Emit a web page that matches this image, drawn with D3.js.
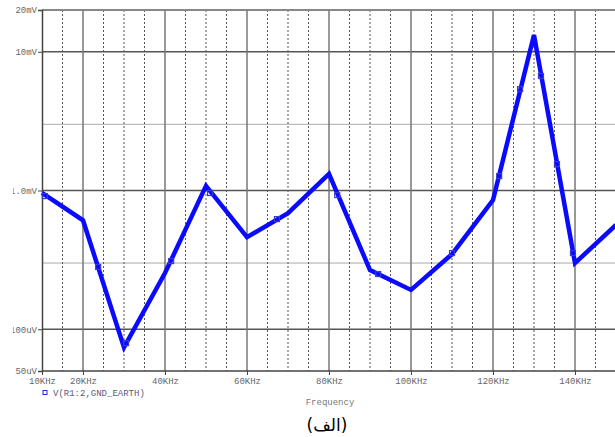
<!DOCTYPE html>
<html>
<head>
<meta charset="utf-8">
<script src="https://cdn.jsdelivr.net/npm/d3@7"></script>
<style>
    body { margin: 0; background: #fff; }
    svg { display: block; }
    .tick text { font-family: "Liberation Mono", "DejaVu Sans Mono", monospace; font-size: 9px; fill: #666; }
</style>
</head>
<body>
<div id="plot"></div>
<script>
'use strict';

// trace values
var freqKHz = [10, 20, 30, 40, 50, 60, 70, 80, 90, 100, 110, 120, 130, 140, 150];
var voltage = [0.96e-3, 0.61e-3, 74e-6, 254e-6, 1.08e-3, 461e-6, 687e-6, 1.32e-3,
    267e-6, 192e-6, 348e-6, 853e-6, 13.2e-3, 300e-6, 564e-6];

// marker squares sitting on the trace
var markerKHz = [10.7, 23.7, 30.5, 41.5, 51.0, 67.3, 82.0, 92.0, 110, 121.5, 126.6, 131.7, 135.6, 139.5];
var markerV = [912e-6, 281e-6, 79.5e-6, 310e-6, 959e-6, 622e-6, 927e-6, 250e-6,
    354e-6, 1.27e-3, 5.38e-3, 6.69e-3, 1.55e-3, 354e-6];

var xTicks = [10, 20, 40, 60, 80, 100, 120, 140];
var xMajorGrid = [20, 40, 60, 80, 100, 120, 140];
var xMinorGrid = [15, 25, 30, 35, 45, 50, 55, 65, 70, 75, 85, 90, 95, 105, 110, 115, 125, 130, 135, 145];
var yTicks = [50e-6, 100e-6, 1e-3, 10e-3, 20e-3];
var yTickLabels = ['50uV', '100uV', '1.0mV', '10mV', '20mV'];
var yMajorGrid = [100e-6, 1e-3, 10e-3];
var yMinorGrid = [300e-6, 3e-3];

var traceName = 'V(R1:2,GND_EARTH)';
var xTitle = 'Frequency';
var caption = '(الف)';

(function () {
    var W = 615, H = 437;
    var pLeft = 42, pTop = 10, pRight = 616, pBottom = 371;

    var x = d3.scaleLinear().domain([10, 150]).range([pLeft, pRight]);
    var y = d3.scaleLog().domain([50e-6, 20e-3]).range([pBottom, pTop]);

    var svg = d3.select('#plot').append('svg').attr('width', W).attr('height', H);

    svg.append('defs').append('clipPath').attr('id', 'labelClip')
        .append('rect').attr('x', -29).attr('y', 0).attr('width', W).attr('height', H);

    var grid = svg.append('g');

    grid.selectAll('.ymin').data(yMinorGrid).enter().append('line')
        .attr('x1', pLeft).attr('x2', W)
        .attr('y1', function (d) { return y(d); }).attr('y2', function (d) { return y(d); })
        .attr('stroke', '#aaa').attr('stroke-width', 1);

    grid.selectAll('.xmin').data(xMinorGrid).enter().append('line')
        .attr('x1', function (d) { return x(d); }).attr('x2', function (d) { return x(d); })
        .attr('y1', pTop).attr('y2', pBottom)
        .attr('stroke', '#555').attr('stroke-width', 1).attr('stroke-dasharray', '2,2');

    grid.selectAll('.ymaj').data(yMajorGrid).enter().append('line')
        .attr('x1', pLeft).attr('x2', W)
        .attr('y1', function (d) { return y(d); }).attr('y2', function (d) { return y(d); })
        .attr('stroke', '#555').attr('stroke-width', 1.5);

    grid.selectAll('.xmaj').data(xMajorGrid).enter().append('line')
        .attr('x1', function (d) { return x(d); }).attr('x2', function (d) { return x(d); })
        .attr('y1', pTop).attr('y2', pBottom)
        .attr('stroke', '#777').attr('stroke-width', 1.5);

    // top border
    grid.append('line').attr('x1', pLeft).attr('x2', W).attr('y1', pTop).attr('y2', pTop)
        .attr('stroke', '#888').attr('stroke-width', 2);

    var xAxis = svg.append('g')
        .attr('transform', 'translate(0,' + pBottom + ')')
        .call(d3.axisBottom(x).tickValues(xTicks).tickSize(4).tickPadding(3)
            .tickFormat(function (d) { return d + 'KHz'; }));
    xAxis.select('.domain').attr('stroke', '#444').attr('stroke-width', 1.5).attr('d', 'M' + pLeft + ',0H' + W);
    xAxis.selectAll('.tick line').attr('stroke', '#444');

    var yAxis = svg.append('g')
        .attr('transform', 'translate(' + pLeft + ',0)')
        .attr('clip-path', 'url(#labelClip)')
        .call(d3.axisLeft(y).tickValues(yTicks).tickSize(4).tickPadding(1)
            .tickFormat(function (d, i) { return yTickLabels[i]; }));
    yAxis.select('.domain').attr('stroke', '#444').attr('stroke-width', 1.5);
    yAxis.selectAll('.tick line').attr('stroke', '#444');

    var pts = freqKHz.map(function (f, i) { return [f, voltage[i]]; });
    var line = d3.line()
        .x(function (d) { return x(d[0]); })
        .y(function (d) { return y(d[1]); });

    svg.append('path').datum(pts)
        .attr('d', line)
        .attr('fill', 'none')
        .attr('stroke', '#0a0aff')
        .attr('stroke-width', 4.5)
        .attr('stroke-linejoin', 'miter');

    svg.selectAll('.marker').data(markerKHz).enter().append('rect')
        .attr('x', function (d) { return x(d) - 2.5; })
        .attr('y', function (d, i) { return y(markerV[i]) - 2.5; })
        .attr('width', 5).attr('height', 5)
        .attr('fill', 'none')
        .attr('stroke', '#3a3ad0')
        .attr('stroke-width', 1.2);

    // legend
    svg.append('rect').attr('x', 43).attr('y', 390.5).attr('width', 4).attr('height', 4)
        .attr('fill', 'none').attr('stroke', '#2a2ad0').attr('stroke-width', 1);
    svg.append('text').attr('x', 53).attr('y', 396)
        .attr('font-family', '"Liberation Mono", monospace').attr('font-size', '9px')
        .attr('fill', '#5a5a80')
        .text(traceName);

    svg.append('text').attr('x', 330).attr('y', 405).attr('text-anchor', 'middle')
        .attr('font-family', '"Liberation Mono", monospace').attr('font-size', '9px')
        .attr('fill', '#777')
        .text(xTitle);

    svg.append('text').attr('x', 327).attr('y', 431).attr('text-anchor', 'middle')
        .attr('font-family', '"DejaVu Sans", sans-serif').attr('font-size', '17px')
        .attr('fill', '#000')
        .text(caption);
})();
</script>
</body>
</html>
